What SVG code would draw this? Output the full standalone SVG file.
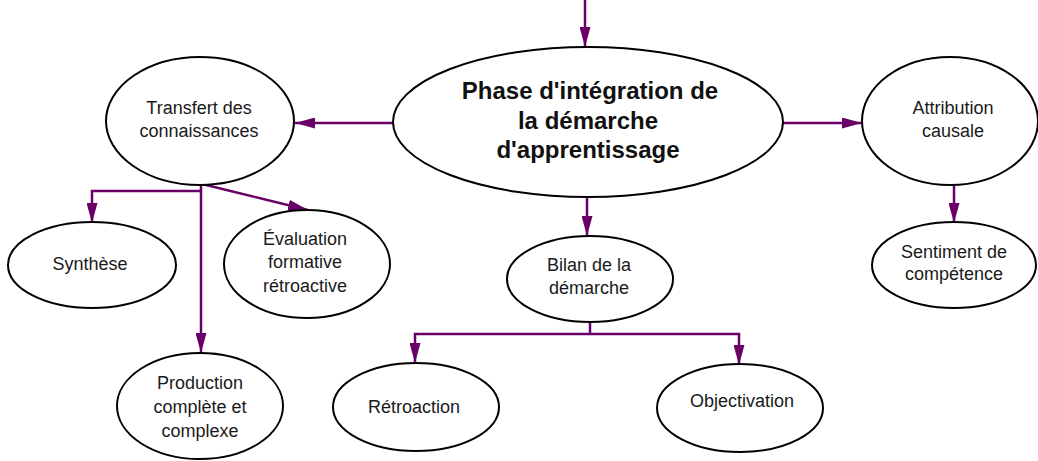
<svg xmlns="http://www.w3.org/2000/svg" width="1038" height="461" viewBox="0 0 1038 461">
  <style>
    .node ellipse { fill: #ffffff; stroke: #000000; stroke-width: 2; }
    .node text { font-family: "Liberation Sans", Arial, sans-serif; font-size: 18px; fill: #1a1a1a; text-anchor: middle; }
    .node text.main { font-size: 24px; font-weight: bold; fill: #111111; }
    .link { fill: none; stroke: #680068; stroke-width: 2.5; }
    .arrow { marker-end: url(#head); }
  </style>
  <defs>
    <marker id="head" markerUnits="userSpaceOnUse" markerWidth="20" markerHeight="11" refX="20" refY="5.5" orient="auto">
      <path d="M0,0 L20,5.5 L0,11 Z" fill="#680068"/>
    </marker>
  </defs>

  <rect width="1038" height="461" fill="#ffffff"/>

  <!-- connectors -->
  <g id="connectors">
    <line class="link arrow" x1="585" y1="0" x2="585" y2="47"/>
    <line class="link arrow" x1="393" y1="123" x2="295" y2="123"/>
    <line class="link arrow" x1="783" y1="123" x2="862" y2="123"/>
    <line class="link arrow" x1="587" y1="197" x2="587" y2="236"/>
    <line class="link arrow" x1="954" y1="185" x2="954" y2="223"/>
    <!-- Transfert branches -->
    <polyline class="link arrow" points="201,191 92,191 92,223"/>
    <line class="link arrow" x1="201" y1="185" x2="201" y2="353"/>
    <line class="link arrow" x1="202" y1="184" x2="308" y2="210"/>
    <!-- Bilan branches -->
    <line class="link" x1="590" y1="322" x2="590" y2="334"/>
    <polyline class="link arrow" points="590,334 415,334 415,363"/>
    <polyline class="link arrow" points="590,334 739,334 739,365"/>
  </g>

  <g id="phase" class="node">
    <ellipse cx="588" cy="122" rx="195" ry="75"/>
    <text class="main" x="590" y="99">Phase d'intégration de</text>
    <text class="main" x="588" y="129">la démarche</text>
    <text class="main" x="588" y="158">d'apprentissage</text>
  </g>

  <g id="transfert" class="node">
    <ellipse cx="200" cy="121" rx="94" ry="64"/>
    <text x="199" y="114">Transfert des</text>
    <text x="199" y="137">connaissances</text>
  </g>

  <g id="attribution" class="node">
    <ellipse cx="950" cy="121" rx="88" ry="64"/>
    <text x="953" y="114">Attribution</text>
    <text x="953" y="137">causale</text>
  </g>

  <g id="sentiment" class="node">
    <ellipse cx="954" cy="265" rx="82" ry="43"/>
    <text x="954" y="258">Sentiment de</text>
    <text x="954" y="280">compétence</text>
  </g>

  <g id="bilan" class="node">
    <ellipse cx="590" cy="279" rx="83" ry="43"/>
    <text x="589" y="271">Bilan de la</text>
    <text x="589" y="294">démarche</text>
  </g>

  <g id="synthese" class="node">
    <ellipse cx="92" cy="265" rx="84" ry="43"/>
    <text x="90" y="270">Synthèse</text>
  </g>

  <g id="evaluation" class="node">
    <ellipse cx="307" cy="264" rx="83" ry="54"/>
    <text x="305" y="245">Évaluation</text>
    <text x="305" y="268">formative</text>
    <text x="305" y="292">rétroactive</text>
  </g>

  <g id="production" class="node">
    <ellipse cx="200" cy="406" rx="83" ry="53"/>
    <text x="200" y="389">Production</text>
    <text x="200" y="413">complète et</text>
    <text x="200" y="437">complexe</text>
  </g>

  <g id="retroaction" class="node">
    <ellipse cx="416" cy="407" rx="83" ry="44"/>
    <text x="414" y="413">Rétroaction</text>
  </g>

  <g id="objectivation" class="node">
    <ellipse cx="740" cy="408" rx="83" ry="44"/>
    <text x="742" y="407">Objectivation</text>
  </g>
</svg>
